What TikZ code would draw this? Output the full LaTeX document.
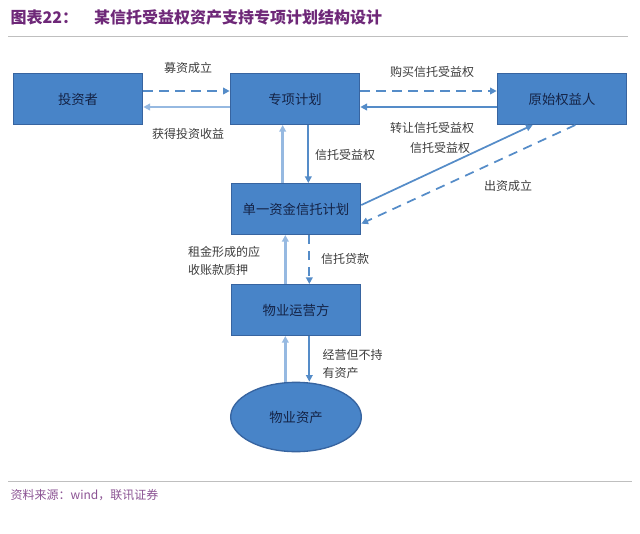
\documentclass[tikz,border=0pt]{standalone}
\usepackage{fontspec}
\setmainfont{Noto Sans CJK SC}
\usetikzlibrary{shapes.geometric,arrows.meta}
\definecolor{boxblue}{RGB}{72,132,200}
\definecolor{edgeblue}{RGB}{55,100,160}
\definecolor{arrowblue}{RGB}{85,140,200}
\definecolor{paleblue}{RGB}{150,185,225}
\definecolor{titlepurple}{RGB}{110,40,120}
\definecolor{labelgray}{RGB}{60,60,60}
\definecolor{textnavy}{RGB}{20,35,70}

\begin{document}
\begin{tikzpicture}[x=0.75pt,y=-0.75pt,
    box/.style={draw=edgeblue,fill=boxblue,line width=1pt,minimum width=97pt,minimum height=38pt,text=textnavy,font=\normalsize},
    flow/.style={arrowblue,line width=1.3pt,-{Triangle[length=5pt,width=5pt]}},
    dflow/.style={flow,dashed,dash pattern=on 7pt off 5pt},
    pflow/.style={paleblue,line width=1.8pt,-{Triangle[length=5pt,width=5pt]}},
    lbl/.style={text=labelgray,font=\small}]
        \useasboundingbox (0,0) rectangle (640,533);
        % title and rules
        \node[anchor=west,text=titlepurple,font=\large\bfseries] (title) at (6,17) {图表22：\quad 某信托受益权资产支持专项计划结构设计};
        \draw[gray!50] (8,36) -- (628,36);
        \draw[gray!50] (8,481) -- (632,481);
        \node[anchor=west,text=titlepurple!80,font=\small\itshape] (src) at (6,495) {资料来源：wind，联讯证券};

        % parties
        \node[box] (investor) at (78,99) {投资者};
        \node[box] (plan) at (295,99) {专项计划};
        \node[box] (orig) at (562,99) {原始权益人};
        \node[box] (trust) at (296,209) {单一资金信托计划};
        \node[box] (operator) at (296,310) {物业运营方};
        \node[ellipse,draw=edgeblue,fill=boxblue,line width=1pt,minimum width=98pt,minimum height=52pt,text=textnavy,font=\normalsize] (asset) at (296,417) {物业资产};

        % flows on top row
        \draw[dflow] ([yshift=6pt]investor.east) -- ([yshift=6pt]investor.east -| plan.west);
        \draw[pflow] ([yshift=-6pt]plan.west) -- ([yshift=-6pt]plan.west -| investor.east);
        \draw[dflow] ([yshift=6pt]plan.east) -- ([yshift=6pt]plan.east -| orig.west);
        \draw[flow] ([yshift=-6pt]orig.west) -- ([yshift=-6pt]orig.west -| plan.east);
        \node[lbl] (l1) at (188,68) {募资成立};
        \node[lbl] (l2) at (188,134) {获得投资收益};
        \node[lbl] (l3) at (432,72) {购买信托受益权};
        \node[lbl] (l4) at (432,128) {转让信托受益权};
        \node[lbl] (l5) at (440,148) {信托受益权};

        % trust plan and originator
        \draw[flow] ([yshift=3pt]trust.east) -- ([xshift=-22pt]orig.south);
        \draw[dflow] ([xshift=10pt]orig.south) -- ([yshift=-11pt]trust.east);
        \node[lbl] (l6) at (508,186) {出资成立};

        % vertical flows
        \draw[flow] ([xshift=10pt]plan.south) -- ([xshift=10pt]plan.south |- trust.north);
        \draw[pflow] ([xshift=-10pt]trust.north) -- ([xshift=-10pt]trust.north |- plan.south);
        \node[lbl] (l7) at (345,155) {信托受益权};
        \draw[pflow] ([xshift=-8pt]operator.north) -- ([xshift=-8pt]operator.north |- trust.south);
        \draw[dflow] ([xshift=10pt]trust.south) -- ([xshift=10pt]trust.south |- operator.north);
        \node[lbl,align=left] (l8) at (224,261) {租金形成的应\\[3pt]收账款质押};
        \node[lbl] (l9) at (345,259) {信托贷款};
        \draw[pflow] ([xshift=-8pt]asset.north) -- ([xshift=-8pt]asset.north |- operator.south);
        \draw[flow] ([xshift=10pt]operator.south) -- ([xshift=10pt]asset.north);
        \node[lbl,align=left,anchor=west] (l10) at (318,364) {经营但不持\\[3pt]有资产};
    \end{tikzpicture}
\end{document}
